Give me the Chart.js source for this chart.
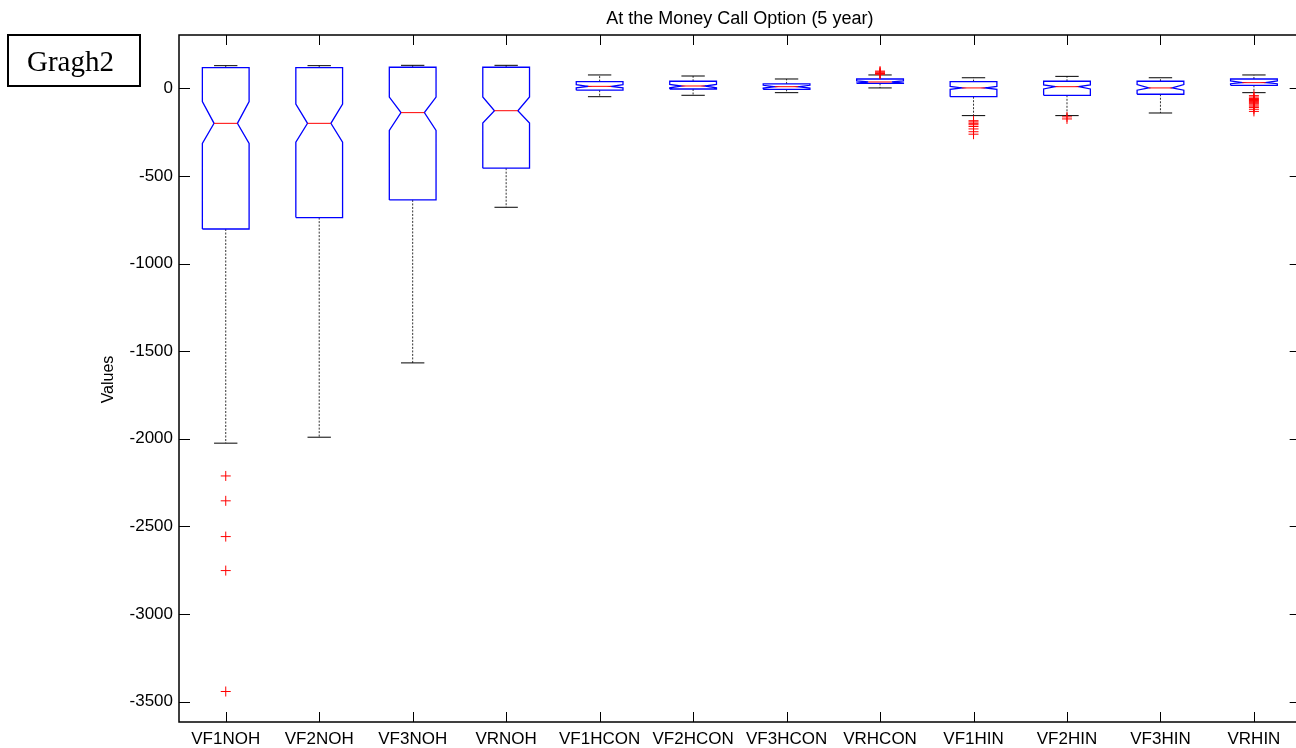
<!DOCTYPE html>
<html>
<head>
<meta charset="utf-8">
<title>At the Money Call Option (5 year)</title>
<script src="https://cdn.jsdelivr.net/npm/chart.js@4.4.1/dist/chart.umd.min.js"></script>
<style>
  html, body { margin: 0; padding: 0; background: #fff; overflow: hidden; }
  #wrap { position: relative; width: 1296px; height: 748px; overflow: hidden; background: #fff; }
  #plot { position: absolute; left: 0; top: 0; }
  #tag {
    position: absolute; left: 7px; top: 34px; width: 112px; height: 49px;
    padding-left: 18px; border: 2px solid #000;
    font-family: "Liberation Serif", "Times New Roman", serif; font-size: 29px;
    line-height: 50px; color: #000; white-space: nowrap;
  }
</style>
</head>
<body>
<div id="wrap">
  <canvas id="plot" width="1296" height="748"></canvas>
  <div id="tag">Gragh2</div>
</div>
<script>
// Box-plot summary per series
const categories = ['VF1NOH', 'VF2NOH', 'VF3NOH', 'VRNOH', 'VF1HCON', 'VF2HCON',
                    'VF3HCON', 'VRHCON', 'VF1HIN', 'VF2HIN', 'VF3HIN', 'VRHIN'];
const upperWhisker = [129, 129, 131, 131, 76, 70, 53, 76, 60, 68, 60, 76];
const q3Values     = [118, 118, 120, 120, 38, 40, 25, 53, 38, 40, 40, 53];
const notchHigh    = [-76, -90, -50, -50, 21, 22, 17, 42, 11, 19, 21, 42];
const medians      = [-200, -200, -139, -128, 11, 13, 9, 36, 2, 9, 2, 32];
const notchLow     = [-314, -308, -240, -198, 3, 3, 1, 30, -6, -4, -11, 26];
const q1Values     = [-803, -738, -637, -456, -11, -4, -6, 28, -48, -40, -34, 17];
const lowerWhisker = [-2025, -1991, -1567, -679, -48, -40, -25, 2, -156, -156, -141, -25];
const outliers = [
  [-2212, -2354, -2558, -2752, -3442],
  [], [], [], [], [], [],
  [80, 84, 88, 93, 98],
  [-185, -192, -200, -208, -218, -232, -248, -262],
  [-163, -175],
  [],
  [-42, -50, -58, -64, -70, -76, -82, -88, -95, -102, -110, -120, -132]
];
const yTickValues = [0, -500, -1000, -1500, -2000, -2500, -3000, -3500];
const yRange = { min: -3616, max: 304 };

const BOX_W = 0.5;          // box width in category units
const HALF = BOX_W / 2;
const INNER = BOX_W / 4;    // notch waist / cap half-width
const X_END = categories.length + 0.5;   // right edge of the axes box
const X_VIEW_END = 12.45;                // the page cuts the axes just before it

const gap = (i) => ({ x: i + 1, y: null });

// notched outline for each box, separated by gaps
const outlinePts = [];
const medianPts = [];
const whiskerPts = [];
const capPts = [];
categories.forEach((_, i) => {
  const c = i + 1;
  outlinePts.push(
    { x: c - HALF, y: q1Values[i] }, { x: c + HALF, y: q1Values[i] },
    { x: c + HALF, y: notchLow[i] }, { x: c + INNER, y: medians[i] },
    { x: c + HALF, y: notchHigh[i] }, { x: c + HALF, y: q3Values[i] },
    { x: c - HALF, y: q3Values[i] }, { x: c - HALF, y: notchHigh[i] },
    { x: c - INNER, y: medians[i] }, { x: c - HALF, y: notchLow[i] },
    { x: c - HALF, y: q1Values[i] }, gap(i));
  medianPts.push({ x: c - INNER, y: medians[i] }, { x: c + INNER, y: medians[i] }, gap(i));
  whiskerPts.push({ x: c, y: q3Values[i] }, { x: c, y: upperWhisker[i] }, gap(i),
                  { x: c, y: q1Values[i] }, { x: c, y: lowerWhisker[i] }, gap(i));
  capPts.push({ x: c - INNER, y: upperWhisker[i] }, { x: c + INNER, y: upperWhisker[i] }, gap(i),
              { x: c - INNER, y: lowerWhisker[i] }, { x: c + INNER, y: lowerWhisker[i] }, gap(i));
});
const outlierPts = [];
outliers.forEach((list, i) => list.forEach(v => outlierPts.push({ x: i + 1, y: v })));

const LABEL_FONT = { family: '"Liberation Sans", Arial, Helvetica, sans-serif', size: 17 };

// axes frame, inward tick marks, title and y-axis caption
const framePlugin = {
  id: 'frame',
  afterDraw(chart) {
    const { ctx, chartArea: a, scales } = chart;
    const right = scales.x.getPixelForValue(X_END);
    ctx.save();
    ctx.strokeStyle = '#000';
    ctx.lineWidth = 1;
    ctx.beginPath();
    scales.y.ticks.forEach(t => {
      const py = Math.round(scales.y.getPixelForValue(t.value)) + 0.5;
      ctx.moveTo(a.left, py); ctx.lineTo(a.left + 11, py);
      ctx.moveTo(right, py); ctx.lineTo(right - 11, py);
    });
    scales.x.ticks.forEach(t => {
      const px = Math.round(scales.x.getPixelForValue(t.value)) + 0.5;
      ctx.moveTo(px, a.bottom); ctx.lineTo(px, a.bottom - 10);
      ctx.moveTo(px, a.top); ctx.lineTo(px, a.top + 10);
    });
    ctx.stroke();
    ctx.lineWidth = 1.5;
    ctx.strokeRect(a.left, a.top, right - a.left, a.bottom - a.top);

    ctx.fillStyle = '#000';
    ctx.textAlign = 'center';
    ctx.textBaseline = 'alphabetic';
    ctx.font = '18px "Liberation Sans", Arial, sans-serif';
    ctx.fillText('At the Money Call Option (5 year)', (a.left + right) / 2, 24);

    ctx.translate(113, (a.top + a.bottom) / 2 + 1);
    ctx.rotate(-Math.PI / 2);
    ctx.font = '16px "Liberation Sans", Arial, sans-serif';
    ctx.fillText('Values', 0, 0);
    ctx.restore();
  }
};

new Chart(document.getElementById('plot'), {
  type: 'scatter',
  data: {
    datasets: [
      { label: 'outliers', data: outlierPts, pointStyle: 'cross', pointRadius: 5,
        borderColor: '#ff0000', backgroundColor: '#ff0000', borderWidth: 1, order: 0 },
      { label: 'median', data: medianPts, showLine: true, pointRadius: 0,
        borderColor: '#ff0000', borderWidth: 1, order: 1 },
      { label: 'box', data: outlinePts, showLine: true, pointRadius: 0,
        borderColor: '#0000ff', borderWidth: 1.3, order: 2 },
      { label: 'caps', data: capPts, showLine: true, pointRadius: 0,
        borderColor: '#000000', borderWidth: 1, order: 3 },
      { label: 'whiskers', data: whiskerPts, showLine: true, pointRadius: 0,
        borderColor: '#333333', borderWidth: 1, borderDash: [2, 1.5], order: 4 }
    ]
  },
  options: {
    responsive: false,
    animation: false,
    events: [],
    devicePixelRatio: 1,
    layout: { autoPadding: false, padding: { top: 35, right: 0, bottom: 0, left: 0 } },
    plugins: { legend: { display: false }, tooltip: { enabled: false }, title: { display: false } },
    scales: {
      x: {
        type: 'linear', min: 0.5, max: X_VIEW_END,
        grid: { display: false, drawTicks: false }, border: { display: false },
        afterBuildTicks: (s) => { s.ticks = categories.map((_, i) => ({ value: i + 1 })); },
        afterFit: (s) => { s.height = 26; s.paddingLeft = 0; s.paddingRight = 0; },
        ticks: { autoSkip: false, maxRotation: 0, padding: 7, color: '#000', font: LABEL_FONT,
                 callback: (v) => categories[Math.round(v) - 1] }
      },
      y: {
        type: 'linear', min: yRange.min, max: yRange.max,
        grid: { display: false, drawTicks: false }, border: { display: false },
        afterBuildTicks: (s) => { s.ticks = yTickValues.map(v => ({ value: v })); },
        afterFit: (s) => { s.width = 179; s.paddingTop = 0; s.paddingBottom = 0; },
        ticks: { padding: 6, color: '#000', font: LABEL_FONT, callback: (v) => String(v) }
      }
    }
  },
  plugins: [framePlugin]
});
</script>
</body>
</html>
